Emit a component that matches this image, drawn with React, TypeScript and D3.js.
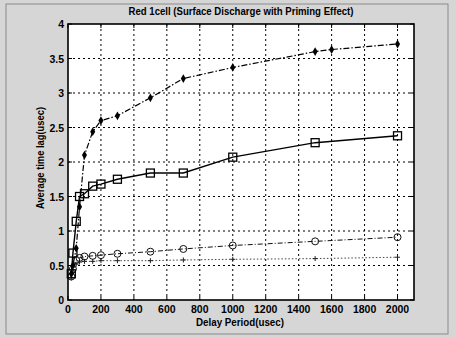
import React from "react";
import * as d3 from "d3";

// ── Data ──────────────────────────────────────────────────────────────────────

const DIAMOND_X = [20, 30, 50, 70, 100, 150, 200, 300, 500, 700, 1000, 1500, 1600, 2000];
const DIAMOND_Y = [0.38, 0.5, 0.75, 1.35, 2.1, 2.44, 2.6, 2.67, 2.93, 3.21, 3.37, 3.6, 3.63, 3.71];

const SQUARE_X = [20, 30, 50, 70, 100, 150, 200, 300, 500, 700, 1000, 1500, 2000];
const SQUARE_Y = [0.38, 0.68, 1.14, 1.5, 1.54, 1.65, 1.68, 1.75, 1.84, 1.84, 2.07, 2.28, 2.38];

const CIRCLE_X = [20, 30, 50, 70, 100, 150, 200, 300, 500, 700, 1000, 1500, 2000];
const CIRCLE_Y = [0.34, 0.45, 0.58, 0.61, 0.63, 0.64, 0.65, 0.67, 0.7, 0.74, 0.79, 0.85, 0.91];

const PLUS_X = [20, 30, 50, 70, 100, 150, 200, 300, 500, 700, 1000, 1500, 2000];
const PLUS_Y = [0.32, 0.4, 0.52, 0.55, 0.56, 0.56, 0.57, 0.57, 0.57, 0.58, 0.59, 0.6, 0.62];

const X_TICKS = [0, 200, 400, 600, 800, 1000, 1200, 1400, 1600, 1800, 2000];
const Y_TICKS = [0, 0.5, 1, 1.5, 2, 2.5, 3, 3.5, 4];

const TITLE = "Red 1cell (Surface Discharge with Priming Effect)";
const X_LABEL = "Delay Period(usec)";
const Y_LABEL = "Average time lag(usec)";

// ── Layout ────────────────────────────────────────────────────────────────────

const W = 456;
const H = 338;
const plot = { left: 68, right: 414, top: 24, bottom: 300 };
const FONT = "'Liberation Sans', Arial, sans-serif";

type Pt = [number, number];
const zip = (xs: number[], ys: number[]): Pt[] => xs.map((x, i) => [x, ys[i]]);

export default function App() {
  const x = d3.scaleLinear().domain([0, 2100]).range([plot.left, plot.right]);
  const y = d3.scaleLinear().domain([0, 4]).range([plot.bottom, plot.top]);
  const line = d3
    .line<Pt>()
    .x((d) => x(d[0]))
    .y((d) => y(d[1]));

  const diamonds = zip(DIAMOND_X, DIAMOND_Y);
  const squares = zip(SQUARE_X, SQUARE_Y);
  const circles = zip(CIRCLE_X, CIRCLE_Y);
  const pluses = zip(PLUS_X, PLUS_Y);

  const pw = plot.right - plot.left;
  const ph = plot.bottom - plot.top;

  return (
    <svg
      width={W}
      height={H}
      style={{ position: "absolute", left: 0, top: 0, display: "block" }}
      fontFamily={FONT}
    >
      {/* Figure background */}
      <rect x={0} y={0} width={W} height={H} fill="#d6d6d6" />
      <rect x={6} y={4} width={W - 14} height={H - 8} fill="none" stroke="#8a8a8a" strokeWidth={1} />
      <rect x={plot.left} y={plot.top} width={pw} height={ph} fill="#ffffff" />

      {/* Grid */}
      <g stroke="#000" strokeWidth={1} strokeDasharray="2,3">
        {X_TICKS.filter((t) => t > 0).map((t) => (
          <line key={`gx${t}`} x1={x(t)} x2={x(t)} y1={plot.top} y2={plot.bottom} />
        ))}
        {Y_TICKS.filter((t) => t > 0 && t < 4).map((t) => (
          <line key={`gy${t}`} x1={plot.left} x2={plot.right} y1={y(t)} y2={y(t)} />
        ))}
      </g>

      {/* Ticks (inside) */}
      <g stroke="#000" strokeWidth={1}>
        {X_TICKS.map((t) => (
          <g key={`tx${t}`}>
            <line x1={x(t)} x2={x(t)} y1={plot.bottom} y2={plot.bottom - 4} />
            <line x1={x(t)} x2={x(t)} y1={plot.top} y2={plot.top + 4} />
          </g>
        ))}
        {Y_TICKS.map((t) => (
          <g key={`ty${t}`}>
            <line x1={plot.left} x2={plot.left + 4} y1={y(t)} y2={y(t)} />
            <line x1={plot.right} x2={plot.right - 4} y1={y(t)} y2={y(t)} />
          </g>
        ))}
      </g>

      {/* Series 4: dotted, small plus markers */}
      <path d={line(pluses) ?? ""} fill="none" stroke="#444" strokeWidth={1} strokeDasharray="1.5,2" />
      {pluses.map((d, i) => (
        <g key={`p${i}`} stroke="#222" strokeWidth={1}>
          <line x1={x(d[0]) - 2.5} x2={x(d[0]) + 2.5} y1={y(d[1])} y2={y(d[1])} />
          <line x1={x(d[0])} x2={x(d[0])} y1={y(d[1]) - 2.5} y2={y(d[1]) + 2.5} />
        </g>
      ))}

      {/* Series 3: dash-dot, open circles */}
      <path d={line(circles) ?? ""} fill="none" stroke="#111" strokeWidth={1} strokeDasharray="5,2,1,2" />
      {circles.map((d, i) => (
        <circle key={`c${i}`} cx={x(d[0])} cy={y(d[1])} r={3.5} fill="none" stroke="#111" strokeWidth={1} />
      ))}

      {/* Series 2: solid, open squares */}
      <path d={line(squares) ?? ""} fill="none" stroke="#000" strokeWidth={1.4} />
      {squares.map((d, i) => (
        <rect
          key={`s${i}`}
          x={x(d[0]) - 4}
          y={y(d[1]) - 4}
          width={8}
          height={8}
          fill="none"
          stroke="#000"
          strokeWidth={1.3}
        />
      ))}

      {/* Series 1: dash-dot, filled diamonds */}
      <path d={line(diamonds) ?? ""} fill="none" stroke="#000" strokeWidth={1.2} strokeDasharray="6,2,1.5,2" />
      {diamonds.map((d, i) => (
        <path
          key={`d${i}`}
          d={d3.symbol(d3.symbolDiamond, 22)() ?? ""}
          transform={`translate(${x(d[0])},${y(d[1])})`}
          fill="#000"
        />
      ))}

      {/* Frame */}
      <rect x={plot.left} y={plot.top} width={pw} height={ph} fill="none" stroke="#000" strokeWidth={1.6} />

      {/* Tick labels */}
      <g fontSize={10.5} fontWeight="bold" fill="#000">
        {X_TICKS.map((t) => (
          <text key={`lx${t}`} x={x(t)} y={plot.bottom + 13} textAnchor="middle">
            {t}
          </text>
        ))}
        {Y_TICKS.map((t) => (
          <text key={`ly${t}`} x={plot.left - 4} y={y(t) + 4} textAnchor="end">
            {t}
          </text>
        ))}
      </g>

      {/* Titles */}
      <text
        x={241}
        y={15}
        textAnchor="middle"
        fontSize={10.5}
        fontWeight="bold"
        fill="#000"
        textLength={225}
        lengthAdjust="spacingAndGlyphs"
      >
        {TITLE}
      </text>
      <text
        x={240}
        y={326}
        textAnchor="middle"
        fontSize={10.5}
        fontWeight="bold"
        fill="#000"
        textLength={88}
        lengthAdjust="spacingAndGlyphs"
      >
        {X_LABEL}
      </text>
      <text
        transform={`translate(44,158) rotate(-90)`}
        textAnchor="middle"
        fontSize={10.5}
        fontWeight="bold"
        fill="#000"
        textLength={102}
        lengthAdjust="spacingAndGlyphs"
      >
        {Y_LABEL}
      </text>
    </svg>
  );
}
